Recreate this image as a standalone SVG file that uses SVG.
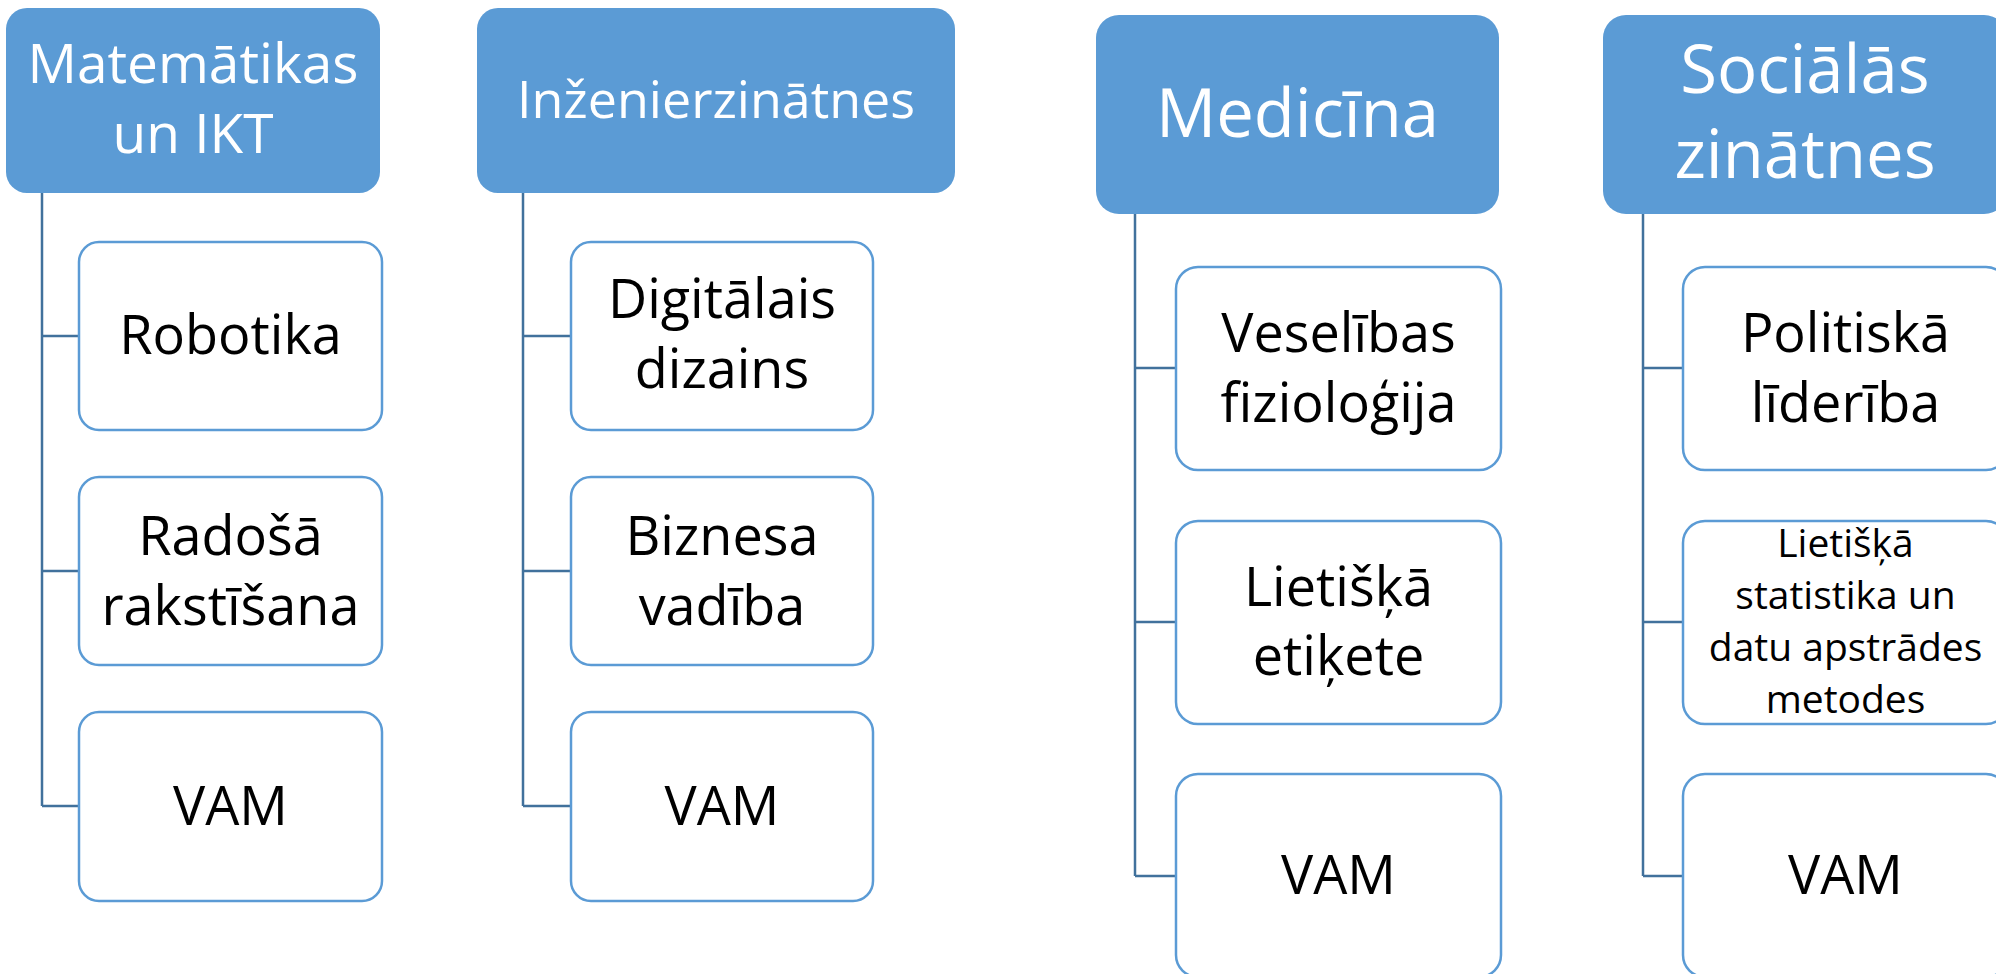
<svg xmlns="http://www.w3.org/2000/svg" width="1996" height="974" viewBox="0 0 1996 974">
<style>
.hdr{fill:#5B9BD5;}
.box{fill:#FFFFFF;stroke:#5B9BD5;stroke-width:2.5;}
.conn{fill:none;stroke:#41719C;stroke-width:2.5;}
text{font-family:"Open Sans","Noto Sans","Liberation Sans",sans-serif;text-anchor:middle;}
.ht{fill:#FFFFFF;}
.ct{fill:#000000;font-size:54px;}
.st{fill:#000000;font-size:39px;}
</style>
<rect width="1996" height="974" fill="#FFFFFF"/>
<g id="connectors">
<path class="conn" d="M42,193 V806 M42,336 H79 M42,571 H79 M42,806 H79"/>
<path class="conn" d="M523,193 V806 M523,336 H571 M523,571 H571 M523,806 H571"/>
<path class="conn" d="M1135,214 V876 M1135,368 H1176 M1135,622 H1176 M1135,876 H1176"/>
<path class="conn" d="M1643,214 V876 M1643,368 H1683 M1643,622 H1683 M1643,876 H1683"/>
</g>
<g id="h1"><rect class="hdr" x="6" y="8" width="374" height="185" rx="21"/>
<text class="ht" x="193" y="83" font-size="55">Matemātikas</text>
<text class="ht" x="193" y="153" font-size="55">un IKT</text></g>
<g id="h1c1"><rect class="box" x="79" y="242" width="303" height="188" rx="20"/>
<text class="ct" x="230.5" y="354">Robotika</text></g>
<g id="h1c2"><rect class="box" x="79" y="477" width="303" height="188" rx="20"/>
<text class="ct" x="230.5" y="555">Radošā</text><text class="ct" x="230.5" y="625">rakstīšana</text></g>
<g id="h1c3"><rect class="box" x="79" y="712" width="303" height="189" rx="20"/>
<text class="ct" x="230.5" y="825">VAM</text></g>
<g id="h2"><rect class="hdr" x="477" y="8" width="478" height="185" rx="21"/>
<text class="ht" x="716" y="118" font-size="52">Inženierzinātnes</text></g>
<g id="h2c1"><rect class="box" x="571" y="242" width="302" height="188" rx="20"/>
<text class="ct" x="722" y="318">Digitālais</text><text class="ct" x="722" y="388">dizains</text></g>
<g id="h2c2"><rect class="box" x="571" y="477" width="302" height="188" rx="20"/>
<text class="ct" x="722" y="555">Biznesa</text><text class="ct" x="722" y="625">vadība</text></g>
<g id="h2c3"><rect class="box" x="571" y="712" width="302" height="189" rx="20"/>
<text class="ct" x="722" y="825">VAM</text></g>
<g id="h3"><rect class="hdr" x="1096" y="15" width="403" height="199" rx="23"/>
<text class="ht" x="1297.5" y="137" font-size="67">Medicīna</text></g>
<g id="h3c1"><rect class="box" x="1176" y="267" width="325" height="203" rx="22"/>
<text class="ct" x="1338.5" y="352">Veselības</text><text class="ct" x="1338.5" y="422">fizioloģija</text></g>
<g id="h3c2"><rect class="box" x="1176" y="521" width="325" height="203" rx="22"/>
<text class="ct" x="1338.5" y="606">Lietišķā</text><text class="ct" x="1338.5" y="675">etiķete</text></g>
<g id="h3c3"><rect class="box" x="1176" y="774" width="325" height="203" rx="22"/>
<text class="ct" x="1338.5" y="894">VAM</text></g>
<g id="h4"><rect class="hdr" x="1603" y="15" width="404" height="199" rx="23"/>
<text class="ht" x="1805" y="93" font-size="67">Sociālās</text>
<text class="ht" x="1805" y="178" font-size="67">zinātnes</text></g>
<g id="h4c1"><rect class="box" x="1683" y="267" width="325" height="203" rx="22"/>
<text class="ct" x="1845.5" y="352">Politiskā</text><text class="ct" x="1845.5" y="422">līderība</text></g>
<g id="h4c2"><rect class="box" x="1683" y="521" width="325" height="203" rx="22"/>
<text class="st" x="1845.5" y="557">Lietišķā</text>
<text class="st" x="1845.5" y="609">statistika un</text>
<text class="st" x="1845.5" y="661">datu apstrādes</text>
<text class="st" x="1845.5" y="713">metodes</text></g>
<g id="h4c3"><rect class="box" x="1683" y="774" width="325" height="203" rx="22"/>
<text class="ct" x="1845.5" y="894">VAM</text></g>
</svg>
